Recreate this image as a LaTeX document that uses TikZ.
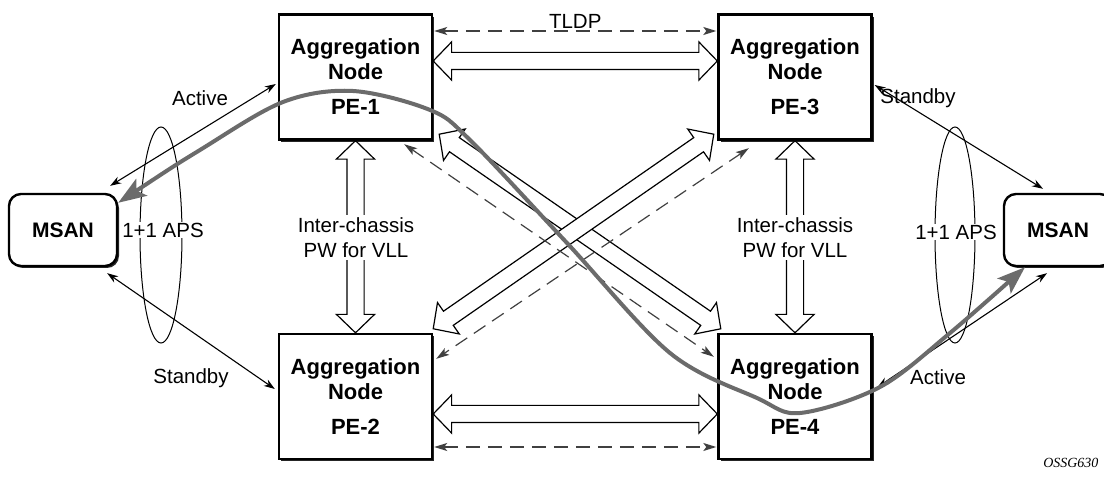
\documentclass[tikz,border=0pt]{standalone}
\usepackage{fontspec}
\setmainfont{Liberation Sans}
\newfontfamily\tagfont{Liberation Serif}
\usetikzlibrary{arrows.meta,shapes.arrows,shadows,calc}

\tikzset{
  aggbox/.style={draw, line width=2.4pt, fill=white, minimum width=153pt, minimum height=125pt,
    align=center, font=\fontsize{22}{25}\bfseries\selectfont,
    drop shadow={shadow xshift=2.2pt, shadow yshift=-2.2pt, fill=black!85, opacity=1}},
  msanbox/.style={draw, line width=2.4pt, fill=white, rounded corners=12pt,
    minimum width=108pt, minimum height=72pt, font=\fontsize{21}{25}\bfseries\selectfont,
    drop shadow={shadow xshift=2pt, shadow yshift=-2pt, fill=black!85, opacity=1}},
  lbl/.style={font=\fontsize{20.5}{25}\selectfont, align=center, inner sep=1pt},
  thinarr/.style={line width=1.1pt, {Stealth[length=11pt,width=7.5pt]}-{Stealth[length=11pt,width=7.5pt]}},
  tldparr/.style={line width=1.2pt, draw=black!75, dash pattern=on 14pt off 8pt,
    {Stealth[length=13pt,width=8pt,inset=3pt]}-{Stealth[length=13pt,width=8pt,inset=3pt]}},
  fatarr/.style={double arrow, draw, line width=1.2pt, fill=white, inner xsep=0pt, inner ysep=8pt,
    minimum width=0pt, double arrow head extend=10.5pt, double arrow tip angle=92},
  pwpath/.style={line width=4pt, draw=black!58,
    {Stealth[length=28pt,width=20pt,inset=6pt]}-{Stealth[length=28pt,width=20pt,inset=6pt]}},
}

% fat double arrow between two named points
\newcommand\fatlink[2]{%
  \path let \p1=($(#2)-(#1)$), \n1={atan2(\y1,\x1)}, \n2={veclen(\x1,\y1)} in
    node[fatarr, minimum height=\n2, rotate=\n1] at ($(#1)!0.5!(#2)$) {};}

\begin{document}
\begin{tikzpicture}[x=1pt,y=1pt]
\useasboundingbox (0,0) rectangle (1104,485);

\node[aggbox] (pe1) at (355.5,408) {Aggregation\\Node\\[10pt]PE-1};
\node[aggbox] (pe3) at (795,408) {Aggregation\\Node\\[10pt]PE-3};
\node[aggbox] (pe2) at (355.5,88.5) {Aggregation\\Node\\[10pt]PE-2};
\node[aggbox] (pe4) at (795,88.5) {Aggregation\\Node\\[10pt]PE-4};
\node[msanbox] (msanL) at (63,255) {MSAN};
\node[msanbox] (msanR) at (1058,255) {MSAN};

% 1+1 APS
\draw[line width=1pt] (161,250) ellipse (21 and 108);
\draw[line width=1pt] (955,250) ellipse (20 and 108);
\node[lbl, fill=white] (apsL) at (163,255) {1+1 APS};
\node[lbl, fill=white] (apsR) at (956,253) {1+1 APS};

% PE to PE
\coordinate (t1) at ([yshift=16pt]pe1.east);
\coordinate (t3) at ([yshift=16pt]pe3.west);
\fatlink{t1}{t3}
\coordinate (b2) at ([yshift=-17.5pt]pe2.east);
\coordinate (b4) at ([yshift=-17.5pt]pe4.west);
\fatlink{b2}{b4}
\fatlink{pe1.south}{pe2.north}
\fatlink{pe3.south}{pe4.north}
\coordinate (x1) at ([xshift=6pt,yshift=6.5pt]pe1.south east);
\coordinate (x4) at ([xshift=3.5pt,yshift=4pt]pe4.north west);
\fatlink{x1}{x4}
\coordinate (x3) at ([xshift=-3.5pt,yshift=6.5pt]pe3.south west);
\coordinate (x2) at ([yshift=4pt]pe2.north east);
\fatlink{x3}{x2}

\draw[tldparr] ([xshift=1pt,yshift=46pt]pe1.east) -- ([xshift=-1pt,yshift=46pt]pe3.west)
  node[midway, above=1pt, lbl] (tldp) {TLDP};
\draw[tldparr] ([xshift=1pt,yshift=-50.5pt]pe2.east) -- ([xshift=-1pt,yshift=-50.5pt]pe4.west);
\draw[tldparr] ([xshift=-29pt,yshift=-3.5pt]pe1.south east) -- ([xshift=-3.5pt,yshift=-24pt]pe4.north west);
\draw[tldparr] ([xshift=31.5pt,yshift=-7.5pt]pe3.south west) -- ([xshift=3pt,yshift=-26pt]pe2.north east);

\node[lbl, fill=white, inner sep=2pt] (icl) at (356,247.5) {Inter-chassis\\PW for VLL};
\node[lbl, fill=white, inner sep=2pt] (icr) at (795,247.5) {Inter-chassis\\PW for VLL};

% MSAN to PE
\draw[thinarr] ([xshift=-8pt,yshift=7pt]msanL.north east) -- ([xshift=-2pt,yshift=-7pt]pe1.west);
\draw[thinarr] ([xshift=-11pt,yshift=-6pt]msanL.south east) -- ([xshift=-3pt,yshift=7.5pt]pe2.west);
\draw[thinarr] ([xshift=2pt,yshift=-8pt]pe3.east) -- ([xshift=-15pt,yshift=4pt]msanR.north);
\draw[thinarr] ([xshift=5pt,yshift=9.5pt]pe4.east) -- ([xshift=-11pt,yshift=-6pt]msanR.south);
\node[lbl] (actL) at (200,387) {Active};
\node[lbl] (stbL) at (191,107) {Standby};
\node[lbl] (stbR) at (918,387) {Standby};
\node[lbl] (actR) at (938,108) {Active};

% VLL path
\coordinate (pwL) at ([yshift=-10pt]msanL.north east);
\coordinate (pwR) at ([xshift=-33pt]msanR.south);
\draw[pwpath] plot[smooth, tension=0.55] coordinates {(pwL) (200,335) (283,383) (353,394) (430,375)
  (470,345) (567,242) (670,132) (757,87) (800,72) (880,98) (950,152) (pwR)};

\node[anchor=base east, font=\tagfont\itshape\fontsize{14}{16}\selectfont] (tag) at (1102,17) {OSSG630};
\end{tikzpicture}
\end{document}
